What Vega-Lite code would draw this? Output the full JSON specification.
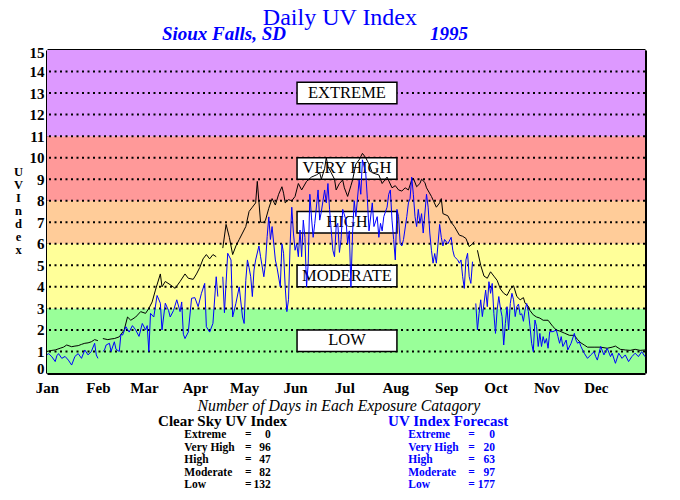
{
  "$schema": "https://vega.github.io/schema/vega-lite/v6.json",
  "width": 598,
  "height": 323,
  "autosize": {"type": "none"},
  "padding": {"left": 47, "top": 50, "right": 35, "bottom": 127},
  "background": "white",
  "config": {
    "view": {"stroke": null},
    "font": "Liberation Serif",
    "axis": {"domainColor": "black", "domainWidth": 3, "tickColor": "black", "labelFont": "Liberation Serif", "labelFontSize": 15, "labelFontWeight": "bold", "labelColor": "black", "zindex": 1, "grid": false},
    "text": {"font": "Liberation Serif"}
  },
  "resolve": {"axis": {"x": "independent", "y": "independent"}},
  "datasets": {
    "bands": [
      {"category": "Low", "lo": 0, "hi": 3, "label": "LOW", "boxLo": 1.0, "boxHi": 2.0},
      {"category": "Moderate", "lo": 3, "hi": 6, "label": "MODERATE", "boxLo": 4.0, "boxHi": 5.0},
      {"category": "High", "lo": 6, "hi": 8, "label": "HIGH", "boxLo": 6.5, "boxHi": 7.5},
      {"category": "Very High", "lo": 8, "hi": 11, "label": "VERY HIGH", "boxLo": 9.0, "boxHi": 10.0},
      {"category": "Extreme", "lo": 11, "hi": 15, "label": "EXTREME", "boxLo": 12.5, "boxHi": 13.5}
    ],
    "grid": [{"uv": 1}, {"uv": 2}, {"uv": 3}, {"uv": 4}, {"uv": 5}, {"uv": 6}, {"uv": 7}, {"uv": 8}, {"uv": 9}, {"uv": 10}, {"uv": 11}, {"uv": 12}, {"uv": 13}, {"uv": 14}],
    "clear": [
      {"day":1,"seg":1,"uv":1.0},{"day":4,"seg":1,"uv":1.05},{"day":6,"seg":1,"uv":1.07},{"day":9,"seg":1,"uv":1.15},{"day":11,"seg":1,"uv":1.2},{"day":13,"seg":1,"uv":1.3},{"day":16,"seg":1,"uv":1.22},{"day":18,"seg":1,"uv":1.25},{"day":20,"seg":1,"uv":1.27},{"day":22,"seg":1,"uv":1.33},{"day":24,"seg":1,"uv":1.38},{"day":26,"seg":1,"uv":1.4},{"day":28,"seg":1,"uv":1.45},{"day":30,"seg":1,"uv":1.55},{"day":32,"seg":1,"uv":1.5},
      {"day":35,"seg":2,"uv":1.6},{"day":38,"seg":2,"uv":1.55},{"day":40,"seg":2,"uv":1.58},{"day":42,"seg":2,"uv":1.6},{"day":45,"seg":2,"uv":1.68},{"day":48,"seg":2,"uv":2.0},{"day":50,"seg":2,"uv":2.6},{"day":52,"seg":2,"uv":2.45},{"day":55,"seg":2,"uv":2.6},{"day":58,"seg":2,"uv":2.85},{"day":61,"seg":2,"uv":2.77},{"day":63,"seg":2,"uv":3.0},{"day":65,"seg":2,"uv":3.3},{"day":67,"seg":2,"uv":3.85},{"day":70,"seg":2,"uv":4.6},{"day":71,"seg":2,"uv":4.0},{"day":73,"seg":2,"uv":4.25},{"day":76,"seg":2,"uv":4.1},{"day":79,"seg":2,"uv":3.93},{"day":82,"seg":2,"uv":4.25},{"day":85,"seg":2,"uv":4.6},{"day":87,"seg":2,"uv":4.4},{"day":90,"seg":2,"uv":4.35},{"day":92,"seg":2,"uv":4.6},{"day":94,"seg":2,"uv":4.9},{"day":96,"seg":2,"uv":5.3},{"day":98,"seg":2,"uv":5.5},{"day":100,"seg":2,"uv":5.3},{"day":102,"seg":2,"uv":5.5},{"day":104,"seg":2,"uv":5.4},
      {"day":108,"seg":3,"uv":5.8},{"day":110,"seg":3,"uv":6.9},{"day":112,"seg":3,"uv":6.3},{"day":114,"seg":3,"uv":5.5},{"day":116,"seg":3,"uv":5.9},{"day":118,"seg":3,"uv":6.2},{"day":120,"seg":3,"uv":6.5},{"day":122,"seg":3,"uv":6.8},{"day":124,"seg":3,"uv":7.5},{"day":126,"seg":3,"uv":7.7},{"day":128,"seg":3,"uv":7.9},{"day":129,"seg":3,"uv":8.9},{"day":131,"seg":3,"uv":7.0},{"day":133,"seg":3,"uv":7.0},{"day":134,"seg":3,"uv":7.1},{"day":136,"seg":3,"uv":7.65},{"day":138,"seg":3,"uv":8.1},{"day":140,"seg":3,"uv":7.8},{"day":142,"seg":3,"uv":8.3},{"day":144,"seg":3,"uv":8.65},{"day":145,"seg":3,"uv":8.35},{"day":146,"seg":3,"uv":7.9},{"day":148,"seg":3,"uv":8.05},{"day":150,"seg":3,"uv":8.0},{"day":152,"seg":3,"uv":8.2},{"day":154,"seg":3,"uv":8.8},{"day":156,"seg":3,"uv":8.5},{"day":159,"seg":3,"uv":8.9},{"day":162,"seg":3,"uv":9.1},{"day":165,"seg":3,"uv":9.2},{"day":167,"seg":3,"uv":9.3},{"day":168,"seg":3,"uv":9.0},{"day":170,"seg":3,"uv":9.5},{"day":171,"seg":3,"uv":10.0},{"day":172,"seg":3,"uv":9.6},{"day":174,"seg":3,"uv":9.3},{"day":176,"seg":3,"uv":9.0},{"day":177,"seg":3,"uv":8.5},{"day":179,"seg":3,"uv":8.8},{"day":181,"seg":3,"uv":8.96},{"day":182,"seg":3,"uv":8.6},{"day":184,"seg":3,"uv":8.2},{"day":186,"seg":3,"uv":8.7},{"day":187,"seg":3,"uv":8.96},{"day":189,"seg":3,"uv":9.7},{"day":191,"seg":3,"uv":9.9},{"day":193,"seg":3,"uv":10.2},{"day":195,"seg":3,"uv":10.0},{"day":197,"seg":3,"uv":9.7},{"day":199,"seg":3,"uv":9.3},{"day":200,"seg":3,"uv":9.27},{"day":203,"seg":3,"uv":9.2},{"day":205,"seg":3,"uv":8.8},{"day":208,"seg":3,"uv":9.1},{"day":211,"seg":3,"uv":8.6},{"day":213,"seg":3,"uv":8.7},{"day":215,"seg":3,"uv":8.5},{"day":217,"seg":3,"uv":8.45},{"day":219,"seg":3,"uv":8.6},{"day":221,"seg":3,"uv":8.5},{"day":223,"seg":3,"uv":8.96},{"day":224,"seg":3,"uv":9.05},{"day":226,"seg":3,"uv":8.65},{"day":228,"seg":3,"uv":8.8},{"day":229,"seg":3,"uv":9.0},{"day":231,"seg":3,"uv":8.85},{"day":232,"seg":3,"uv":8.6},{"day":235,"seg":3,"uv":8.2},{"day":238,"seg":3,"uv":7.7},{"day":240,"seg":3,"uv":7.9},{"day":241,"seg":3,"uv":8.1},{"day":242,"seg":3,"uv":7.4},{"day":245,"seg":3,"uv":7.3},{"day":247,"seg":3,"uv":7.0},{"day":249,"seg":3,"uv":6.8},{"day":252,"seg":3,"uv":6.4},{"day":254,"seg":3,"uv":6.35},{"day":256,"seg":3,"uv":6.25},{"day":258,"seg":3,"uv":5.87},{"day":260,"seg":3,"uv":6.0},{"day":261,"seg":3,"uv":6.1},
      {"day":263,"seg":4,"uv":5.7},{"day":265,"seg":4,"uv":5.0},{"day":267,"seg":4,"uv":4.5},{"day":269,"seg":4,"uv":4.4},{"day":271,"seg":4,"uv":4.7},{"day":273,"seg":4,"uv":4.5},{"day":275,"seg":4,"uv":4.3},{"day":277,"seg":4,"uv":3.9},{"day":279,"seg":4,"uv":3.7},{"day":281,"seg":4,"uv":3.6},{"day":283,"seg":4,"uv":3.9},{"day":285,"seg":4,"uv":4.05},{"day":287,"seg":4,"uv":3.55},{"day":289,"seg":4,"uv":3.4},{"day":291,"seg":4,"uv":3.5},{"day":292,"seg":4,"uv":3.24},{"day":294,"seg":4,"uv":3.1},{"day":295,"seg":4,"uv":2.9},{"day":297,"seg":4,"uv":2.7},{"day":299,"seg":4,"uv":2.6},{"day":301,"seg":4,"uv":2.55},{"day":303,"seg":4,"uv":2.45},{"day":306,"seg":4,"uv":2.45},{"day":309,"seg":4,"uv":2.15},{"day":311,"seg":4,"uv":2.0},{"day":313,"seg":4,"uv":1.95},{"day":316,"seg":4,"uv":1.85},{"day":319,"seg":4,"uv":1.75},{"day":322,"seg":4,"uv":1.75},{"day":324,"seg":4,"uv":1.55},{"day":326,"seg":4,"uv":1.4},{"day":328,"seg":4,"uv":1.3},{"day":330,"seg":4,"uv":1.2},{"day":334,"seg":4,"uv":1.2},{"day":338,"seg":4,"uv":1.2},{"day":342,"seg":4,"uv":1.15},{"day":345,"seg":4,"uv":1.2},{"day":347,"seg":4,"uv":1.25},{"day":350,"seg":4,"uv":1.1},{"day":353,"seg":4,"uv":1.07},{"day":356,"seg":4,"uv":1.05},{"day":359,"seg":4,"uv":1.1},{"day":362,"seg":4,"uv":1.05},{"day":365,"seg":4,"uv":1.07}
    ],
    "forecast": [
      {"day":1,"seg":1,"uv":0.85},{"day":2,"seg":1,"uv":0.9},{"day":4,"seg":1,"uv":0.75},{"day":6,"seg":1,"uv":0.53},{"day":7,"seg":1,"uv":0.8},{"day":8,"seg":1,"uv":0.9},{"day":10,"seg":1,"uv":0.68},{"day":12,"seg":1,"uv":0.77},{"day":14,"seg":1,"uv":0.6},{"day":16,"seg":1,"uv":0.37},{"day":18,"seg":1,"uv":0.77},{"day":20,"seg":1,"uv":0.9},{"day":22,"seg":1,"uv":0.68},{"day":24,"seg":1,"uv":1.07},{"day":26,"seg":1,"uv":0.84},{"day":28,"seg":1,"uv":1.0},{"day":30,"seg":1,"uv":1.38},{"day":31,"seg":1,"uv":0.84},{"day":32,"seg":1,"uv":0.68},
      {"day":35,"seg":2,"uv":1.0},{"day":36,"seg":2,"uv":1.07},{"day":37,"seg":2,"uv":1.3},{"day":39,"seg":2,"uv":1.38},{"day":40,"seg":2,"uv":1.0},{"day":42,"seg":2,"uv":1.45},{"day":43,"seg":2,"uv":1.1},{"day":45,"seg":2,"uv":1.0},{"day":46,"seg":2,"uv":1.8},{"day":47,"seg":2,"uv":1.76},{"day":49,"seg":2,"uv":2.15},{"day":51,"seg":2,"uv":1.9},{"day":53,"seg":2,"uv":2.2},{"day":55,"seg":2,"uv":2.0},{"day":57,"seg":2,"uv":1.7},{"day":59,"seg":2,"uv":2.3},{"day":61,"seg":2,"uv":2.0},{"day":62,"seg":2,"uv":2.2},{"day":63,"seg":2,"uv":1.0},{"day":64,"seg":2,"uv":2.77},{"day":66,"seg":2,"uv":2.6},{"day":68,"seg":2,"uv":3.6},{"day":70,"seg":2,"uv":3.24},{"day":71,"seg":2,"uv":2.0},{"day":73,"seg":2,"uv":3.24},{"day":75,"seg":2,"uv":2.9},{"day":76,"seg":2,"uv":2.6},{"day":78,"seg":2,"uv":2.9},{"day":80,"seg":2,"uv":3.4},{"day":82,"seg":2,"uv":2.85},{"day":83,"seg":2,"uv":3.3},{"day":84,"seg":2,"uv":1.8},{"day":85,"seg":2,"uv":1.6},{"day":87,"seg":2,"uv":1.9},{"day":89,"seg":2,"uv":3.47},{"day":91,"seg":2,"uv":3.5},{"day":93,"seg":2,"uv":3.08},{"day":95,"seg":2,"uv":3.7},{"day":97,"seg":2,"uv":4.16},{"day":98,"seg":2,"uv":2.15},{"day":100,"seg":2,"uv":1.9},{"day":102,"seg":2,"uv":2.3},{"day":104,"seg":2,"uv":4.47},{"day":105,"seg":2,"uv":3.55},
      {"day":108,"seg":3,"uv":4.47},{"day":109,"seg":3,"uv":2.8},{"day":111,"seg":3,"uv":5.56},{"day":113,"seg":3,"uv":5.25},{"day":114,"seg":3,"uv":2.6},{"day":116,"seg":3,"uv":3.24},{"day":118,"seg":3,"uv":4.0},{"day":120,"seg":3,"uv":2.6},{"day":121,"seg":3,"uv":2.3},{"day":122,"seg":3,"uv":4.3},{"day":123,"seg":3,"uv":5.25},{"day":124,"seg":3,"uv":4.9},{"day":125,"seg":3,"uv":4.47},{"day":126,"seg":3,"uv":3.55},{"day":127,"seg":3,"uv":4.78},{"day":128,"seg":3,"uv":5.25},{"day":130,"seg":3,"uv":5.9},{"day":131,"seg":3,"uv":5.4},{"day":133,"seg":3,"uv":4.47},{"day":134,"seg":3,"uv":5.1},{"day":135,"seg":3,"uv":6.33},{"day":136,"seg":3,"uv":7.25},{"day":137,"seg":3,"uv":6.2},{"day":138,"seg":3,"uv":6.8},{"day":140,"seg":3,"uv":5.25},{"day":141,"seg":3,"uv":4.9},{"day":143,"seg":3,"uv":4.0},{"day":144,"seg":3,"uv":6.0},{"day":145,"seg":3,"uv":5.56},{"day":146,"seg":3,"uv":4.0},{"day":147,"seg":3,"uv":2.85},{"day":148,"seg":3,"uv":3.4},{"day":149,"seg":3,"uv":6.0},{"day":150,"seg":3,"uv":7.7},{"day":151,"seg":3,"uv":6.5},{"day":152,"seg":3,"uv":5.7},{"day":153,"seg":3,"uv":6.0},{"day":154,"seg":3,"uv":5.4},{"day":155,"seg":3,"uv":6.64},{"day":156,"seg":3,"uv":5.4},{"day":157,"seg":3,"uv":7.1},{"day":158,"seg":3,"uv":6.3},{"day":159,"seg":3,"uv":4.0},{"day":160,"seg":3,"uv":5.1},{"day":161,"seg":3,"uv":8.3},{"day":162,"seg":3,"uv":7.2},{"day":163,"seg":3,"uv":6.3},{"day":164,"seg":3,"uv":6.95},{"day":166,"seg":3,"uv":8.5},{"day":167,"seg":3,"uv":7.1},{"day":168,"seg":3,"uv":7.5},{"day":170,"seg":3,"uv":8.5},{"day":171,"seg":3,"uv":7.9},{"day":172,"seg":3,"uv":8.8},{"day":173,"seg":3,"uv":7.6},{"day":174,"seg":3,"uv":6.64},{"day":175,"seg":3,"uv":5.7},{"day":176,"seg":3,"uv":5.4},{"day":177,"seg":3,"uv":6.8},{"day":178,"seg":3,"uv":6.95},{"day":179,"seg":3,"uv":5.6},{"day":180,"seg":3,"uv":6.2},{"day":181,"seg":3,"uv":7.6},{"day":183,"seg":3,"uv":7.1},{"day":184,"seg":3,"uv":6.0},{"day":185,"seg":3,"uv":6.6},{"day":186,"seg":3,"uv":4.0},{"day":187,"seg":3,"uv":6.5},{"day":188,"seg":3,"uv":8.0},{"day":189,"seg":3,"uv":7.26},{"day":191,"seg":3,"uv":8.96},{"day":192,"seg":3,"uv":8.3},{"day":193,"seg":3,"uv":9.9},{"day":195,"seg":3,"uv":9.3},{"day":196,"seg":3,"uv":8.1},{"day":197,"seg":3,"uv":6.6},{"day":199,"seg":3,"uv":7.9},{"day":200,"seg":3,"uv":6.8},{"day":202,"seg":3,"uv":7.26},{"day":203,"seg":3,"uv":6.3},{"day":204,"seg":3,"uv":6.95},{"day":205,"seg":3,"uv":6.6},{"day":206,"seg":3,"uv":7.26},{"day":208,"seg":3,"uv":7.7},{"day":209,"seg":3,"uv":8.3},{"day":210,"seg":3,"uv":8.5},{"day":211,"seg":3,"uv":7.1},{"day":212,"seg":3,"uv":6.2},{"day":213,"seg":3,"uv":5.25},{"day":214,"seg":3,"uv":7.6},{"day":215,"seg":3,"uv":7.26},{"day":216,"seg":3,"uv":6.0},{"day":217,"seg":3,"uv":5.9},{"day":218,"seg":3,"uv":6.2},{"day":220,"seg":3,"uv":7.26},{"day":221,"seg":3,"uv":7.9},{"day":222,"seg":3,"uv":8.1},{"day":223,"seg":3,"uv":9.1},{"day":224,"seg":3,"uv":8.3},{"day":225,"seg":3,"uv":7.26},{"day":226,"seg":3,"uv":6.8},{"day":227,"seg":3,"uv":7.6},{"day":228,"seg":3,"uv":6.95},{"day":229,"seg":3,"uv":7.4},{"day":230,"seg":3,"uv":6.5},{"day":232,"seg":3,"uv":8.3},{"day":233,"seg":3,"uv":7.7},{"day":234,"seg":3,"uv":6.5},{"day":235,"seg":3,"uv":5.7},{"day":236,"seg":3,"uv":5.1},{"day":237,"seg":3,"uv":5.55},{"day":238,"seg":3,"uv":5.1},{"day":239,"seg":3,"uv":6.0},{"day":240,"seg":3,"uv":6.9},{"day":241,"seg":3,"uv":6.3},{"day":242,"seg":3,"uv":5.9},{"day":243,"seg":3,"uv":6.2},{"day":245,"seg":3,"uv":6.0},{"day":247,"seg":3,"uv":6.3},{"day":248,"seg":3,"uv":5.7},{"day":249,"seg":3,"uv":5.4},{"day":251,"seg":3,"uv":5.25},{"day":252,"seg":3,"uv":5.1},{"day":253,"seg":3,"uv":5.25},{"day":254,"seg":3,"uv":4.47},{"day":255,"seg":3,"uv":3.93},{"day":256,"seg":3,"uv":5.25},{"day":257,"seg":3,"uv":5.56},{"day":258,"seg":3,"uv":4.47},{"day":259,"seg":3,"uv":4.16},{"day":260,"seg":3,"uv":5.17},
      {"day":262,"seg":4,"uv":3.23},{"day":263,"seg":4,"uv":2.0},{"day":264,"seg":4,"uv":2.77},{"day":265,"seg":4,"uv":3.4},{"day":266,"seg":4,"uv":2.62},{"day":268,"seg":4,"uv":3.85},{"day":269,"seg":4,"uv":3.08},{"day":270,"seg":4,"uv":4.24},{"day":271,"seg":4,"uv":3.7},{"day":272,"seg":4,"uv":4.16},{"day":273,"seg":4,"uv":2.77},{"day":274,"seg":4,"uv":1.84},{"day":275,"seg":4,"uv":2.93},{"day":276,"seg":4,"uv":3.55},{"day":277,"seg":4,"uv":3.0},{"day":278,"seg":4,"uv":2.62},{"day":279,"seg":4,"uv":1.3},{"day":280,"seg":4,"uv":2.3},{"day":281,"seg":4,"uv":3.08},{"day":282,"seg":4,"uv":2.0},{"day":283,"seg":4,"uv":3.23},{"day":284,"seg":4,"uv":3.7},{"day":285,"seg":4,"uv":3.4},{"day":286,"seg":4,"uv":2.62},{"day":287,"seg":4,"uv":3.08},{"day":288,"seg":4,"uv":3.2},{"day":289,"seg":4,"uv":2.7},{"day":290,"seg":4,"uv":2.75},{"day":291,"seg":4,"uv":2.4},{"day":292,"seg":4,"uv":2.93},{"day":293,"seg":4,"uv":3.23},{"day":294,"seg":4,"uv":2.85},{"day":295,"seg":4,"uv":2.15},{"day":296,"seg":4,"uv":1.38},{"day":297,"seg":4,"uv":0.99},{"day":298,"seg":4,"uv":2.46},{"day":299,"seg":4,"uv":2.15},{"day":300,"seg":4,"uv":1.23},{"day":301,"seg":4,"uv":1.84},{"day":302,"seg":4,"uv":1.23},{"day":303,"seg":4,"uv":1.69},{"day":304,"seg":4,"uv":1.38},{"day":305,"seg":4,"uv":1.6},{"day":306,"seg":4,"uv":1.15},{"day":307,"seg":4,"uv":1.92},{"day":309,"seg":4,"uv":1.92},{"day":311,"seg":4,"uv":2.0},{"day":312,"seg":4,"uv":1.69},{"day":313,"seg":4,"uv":1.38},{"day":314,"seg":4,"uv":1.69},{"day":315,"seg":4,"uv":1.23},{"day":317,"seg":4,"uv":1.53},{"day":318,"seg":4,"uv":1.07},{"day":320,"seg":4,"uv":1.38},{"day":322,"seg":4,"uv":1.84},{"day":323,"seg":4,"uv":1.53},{"day":324,"seg":4,"uv":1.38},{"day":325,"seg":4,"uv":1.45},{"day":326,"seg":4,"uv":1.23},{"day":328,"seg":4,"uv":0.92},{"day":330,"seg":4,"uv":0.68},{"day":332,"seg":4,"uv":0.84},{"day":334,"seg":4,"uv":0.99},{"day":335,"seg":4,"uv":0.76},{"day":336,"seg":4,"uv":0.6},{"day":338,"seg":4,"uv":1.23},{"day":340,"seg":4,"uv":0.84},{"day":342,"seg":4,"uv":1.15},{"day":344,"seg":4,"uv":0.76},{"day":345,"seg":4,"uv":0.92},{"day":347,"seg":4,"uv":0.45},{"day":349,"seg":4,"uv":0.92},{"day":351,"seg":4,"uv":0.68},{"day":353,"seg":4,"uv":0.84},{"day":355,"seg":4,"uv":0.53},{"day":357,"seg":4,"uv":0.76},{"day":359,"seg":4,"uv":0.92},{"day":361,"seg":4,"uv":0.76},{"day":363,"seg":4,"uv":0.99},{"day":365,"seg":4,"uv":0.76}
    ]
  },
  "layer": [
    {
      "data": {"name": "bands"},
      "mark": {"type": "rect"},
      "encoding": {
        "y": {"field": "lo", "type": "quantitative", "scale": {"domain": [0, 15], "nice": false, "zero": true},
              "axis": {"orient": "left", "values": [0,1,2,3,4,5,6,7,8,9,10,11,12,13,14,15], "ticks": false, "labelPadding": 3, "labelFlush": false,
                       "labelBaseline": {"condition": {"test": "datum.value == 0", "value": "alphabetic"}, "value": "middle"},
                       "labelOffset": {"condition": {"test": "datum.value == 15", "value": 2}, "value": 0},
                       "title": ["U", "V", "\u00a0", "I", "n", "d", "e", "x"], "titleAngle": 0, "titleFont": "Liberation Serif", "titleFontSize": 12.5, "titleFontWeight": "bold", "titleColor": "black", "titleLineHeight": 13, "titleAlign": "center", "titleBaseline": "top", "titleX": -29, "titleY": 115}},
        "y2": {"field": "hi"},
        "color": {"field": "category", "type": "nominal", "legend": null,
                  "scale": {"domain": ["Low", "Moderate", "High", "Very High", "Extreme"], "range": ["#99FF99", "#FFFF99", "#FFCC99", "#FF9999", "#DD99FF"]}}
      }
    },
    {
      "data": {"name": "grid"},
      "mark": {"type": "rule", "color": "black", "strokeWidth": 2, "strokeDash": [2, 3.5]},
      "encoding": {
        "y": {"field": "uv", "type": "quantitative", "axis": {"orient": "right", "labels": false, "ticks": false, "title": null}}
      }
    },
    {
      "data": {"name": "bands"},
      "mark": {"type": "rect", "fill": "white", "stroke": "black", "strokeWidth": 1.5},
      "encoding": {
        "x": {"datum": 153.2, "type": "quantitative", "axis": null},
        "x2": {"datum": 214},
        "y": {"field": "boxLo", "type": "quantitative", "axis": null},
        "y2": {"field": "boxHi"}
      }
    },
    {
      "data": {"name": "bands"},
      "mark": {"type": "text", "fontSize": 16.5, "color": "black", "align": "center", "baseline": "alphabetic", "dy": -6},
      "encoding": {
        "x": {"datum": 183.6, "type": "quantitative", "axis": null},
        "y": {"field": "boxLo", "type": "quantitative", "axis": null},
        "text": {"field": "label"}
      }
    },
    {
      "data": {"name": "clear"},
      "mark": {"type": "line", "color": "black", "strokeWidth": 1},
      "encoding": {
        "x": {"field": "day", "type": "quantitative", "scale": {"domain": [1, 365], "nice": false, "zero": false},
              "axis": {"orient": "bottom", "values": [1,32,60,91,121,152,182,213,244,274,305,335], "labelExpr": "timeFormat(datetime(1995, 0, datum.value), '%b')", "labelFlush": false, "tickSize": -8, "tickWidth": 1.5, "labelPadding": 15, "title": null}},
        "y": {"field": "uv", "type": "quantitative", "axis": null},
        "detail": {"field": "seg"}
      }
    },
    {
      "data": {"name": "forecast"},
      "mark": {"type": "line", "color": "#0000FF", "strokeWidth": 1},
      "encoding": {
        "x": {"field": "day", "type": "quantitative",
              "axis": {"orient": "top", "values": [1,32,60,91,121,152,182,213,244,274,305,335], "labels": false, "tickSize": -8, "tickWidth": 1.5, "title": null}},
        "y": {"field": "uv", "type": "quantitative", "axis": null},
        "detail": {"field": "seg"}
      }
    },
    {
      "data": {"values": [{}]},
      "layer": [
        {"mark": {"type": "text", "text": "Daily UV Index", "fontSize": 24, "color": "#0000FF", "align": "center", "baseline": "alphabetic"},
         "encoding": {"x": {"datum": 179.3, "type": "quantitative", "axis": null}, "y": {"datum": 16.16, "type": "quantitative", "axis": null}}},
        {"mark": {"type": "text", "text": "Sioux Falls, SD", "fontSize": 19, "fontStyle": "italic", "fontWeight": "bold", "color": "#0000FF", "align": "center", "baseline": "alphabetic"},
         "encoding": {"x": {"datum": 108.7, "type": "quantitative", "axis": null}, "y": {"datum": 15.47, "type": "quantitative", "axis": null}}},
        {"mark": {"type": "text", "text": "1995", "fontSize": 19, "fontStyle": "italic", "fontWeight": "bold", "color": "#0000FF", "align": "center", "baseline": "alphabetic"},
         "encoding": {"x": {"datum": 245.7, "type": "quantitative", "axis": null}, "y": {"datum": 15.47, "type": "quantitative", "axis": null}}},
        {"mark": {"type": "text", "text": "Number of Days in Each Exposure Catagory", "fontSize": 15.8, "fontStyle": "italic", "color": "black", "align": "center", "baseline": "alphabetic"},
         "encoding": {"x": {"datum": 178.7, "type": "quantitative", "axis": null}, "y": {"datum": -1.75, "type": "quantitative", "axis": null}}},
        {"mark": {"type": "text", "text": "Clear Sky UV Index", "fontSize": 15, "fontWeight": "bold", "color": "black", "align": "left", "baseline": "alphabetic"},
         "encoding": {"x": {"datum": 68.6, "type": "quantitative", "axis": null}, "y": {"datum": -2.47, "type": "quantitative", "axis": null}}},
        {"mark": {"type": "text", "text": "UV Index Forecast", "fontSize": 15, "fontWeight": "bold", "color": "#0000FF", "align": "left", "baseline": "alphabetic"},
         "encoding": {"x": {"datum": 208.6, "type": "quantitative", "axis": null}, "y": {"datum": -2.47, "type": "quantitative", "axis": null}}},
        {"mark": {"type": "text", "text": ["Extreme", "Very High", "High", "Moderate", "Low"], "fontSize": 11.5, "fontWeight": "bold", "lineHeight": 12.4, "color": "black", "align": "left", "baseline": "alphabetic"},
         "encoding": {"x": {"datum": 84.6, "type": "quantitative", "axis": null}, "y": {"datum": -3.04, "type": "quantitative", "axis": null}}},
        {"mark": {"type": "text", "text": ["=", "=", "=", "=", "="], "fontSize": 11.5, "fontWeight": "bold", "lineHeight": 12.4, "color": "black", "align": "left", "baseline": "alphabetic"},
         "encoding": {"x": {"datum": 121.5, "type": "quantitative", "axis": null}, "y": {"datum": -3.04, "type": "quantitative", "axis": null}}},
        {"mark": {"type": "text", "text": ["0", "96", "47", "82", "132"], "fontSize": 11.5, "fontWeight": "bold", "lineHeight": 12.4, "color": "black", "align": "right", "baseline": "alphabetic"},
         "encoding": {"x": {"datum": 137.2, "type": "quantitative", "axis": null}, "y": {"datum": -3.04, "type": "quantitative", "axis": null}}},
        {"mark": {"type": "text", "text": ["Extreme", "Very High", "High", "Moderate", "Low"], "fontSize": 11.5, "fontWeight": "bold", "lineHeight": 12.4, "color": "#0000FF", "align": "left", "baseline": "alphabetic"},
         "encoding": {"x": {"datum": 220.9, "type": "quantitative", "axis": null}, "y": {"datum": -3.04, "type": "quantitative", "axis": null}}},
        {"mark": {"type": "text", "text": ["=", "=", "=", "=", "="], "fontSize": 11.5, "fontWeight": "bold", "lineHeight": 12.4, "color": "#0000FF", "align": "left", "baseline": "alphabetic"},
         "encoding": {"x": {"datum": 257.4, "type": "quantitative", "axis": null}, "y": {"datum": -3.04, "type": "quantitative", "axis": null}}},
        {"mark": {"type": "text", "text": ["0", "20", "63", "97", "177"], "fontSize": 11.5, "fontWeight": "bold", "lineHeight": 12.4, "color": "#0000FF", "align": "right", "baseline": "alphabetic"},
         "encoding": {"x": {"datum": 273.7, "type": "quantitative", "axis": null}, "y": {"datum": -3.04, "type": "quantitative", "axis": null}}}
      ]
    }
  ]
}
